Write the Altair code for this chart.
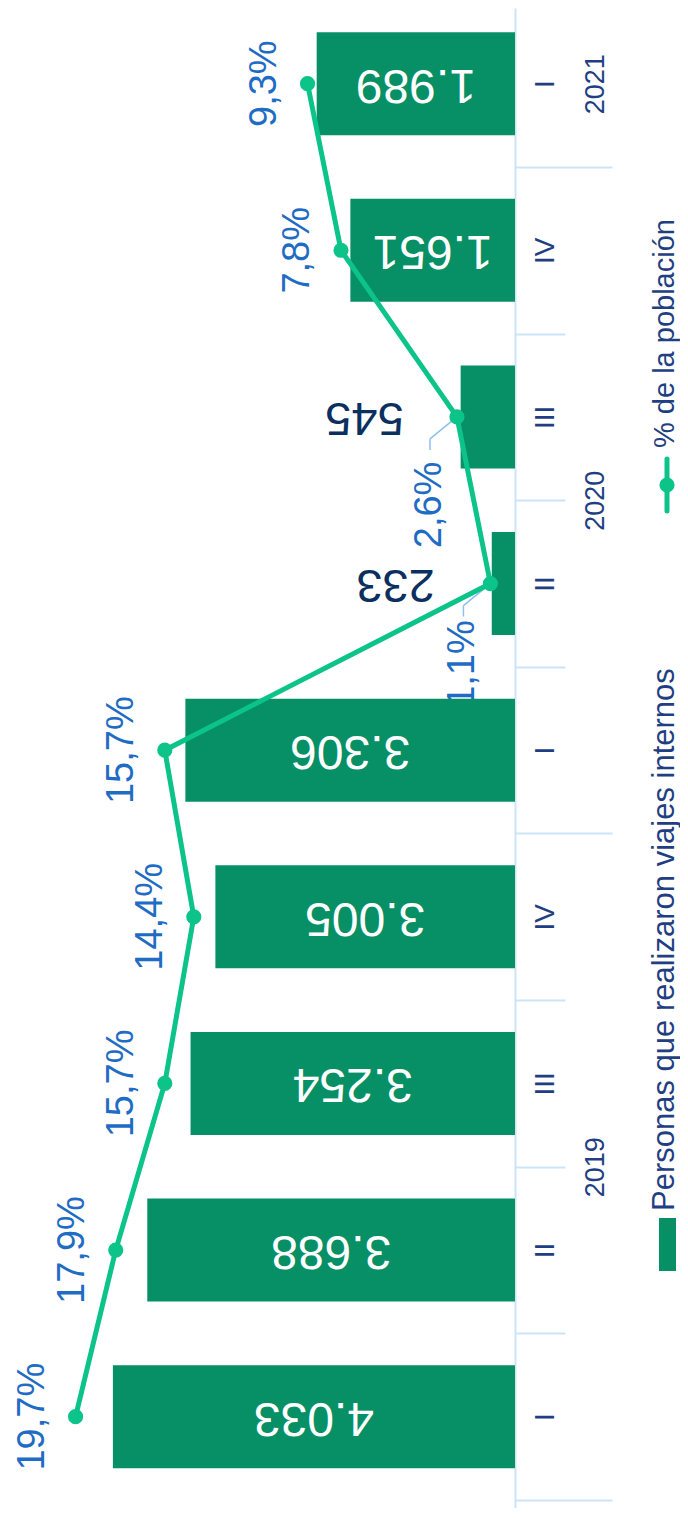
import altair as alt
import pandas as pd

# ---- data -------------------------------------------------------------
years = ["2019", "2020", "2021"]
year_centers = [1.5, 5.5, 8]          # index position of each year label
quarters = ["I", "II", "III", "IV", "I", "II", "III", "IV", "I"]
viajeros = [4033, 3688, 3254, 3005, 3306, 233, 545, 1651, 1989]
porcentaje = [19.7, 17.9, 15.7, 14.4, 15.7, 1.1, 2.6, 7.8, 9.3]
legend_names = ["Personas que realizaron viajes internos", "% de la población"]

df = pd.DataFrame({"idx": list(range(len(quarters))), "q": quarters,
                   "v": viajeros, "p": porcentaje})
legend_df = pd.DataFrame({"name": legend_names})

# ---- style ------------------------------------------------------------
GREEN_BAR = "#078f66"
GREEN_LINE = "#0cc389"
BLUE_TXT = "#1f6cc4"
NAVY = "#1f3f82"
DARK = "#0b2f5e"
AXIS = "#cce3f8"
LEADER = "#8cc0ef"
FONT = "Liberation Sans"

W, H = 672, 1500
AXIS_OFFSET = -165   # bar baseline sits 165px left of the right edge
y_scale = alt.Scale(domain=[-0.5179, 8.424], nice=False, zero=False)
xb_scale = alt.Scale(domain=[-1655, 5085], reverse=True, nice=False, zero=False)
xp_scale = alt.Scale(domain=[-7.40, 22.73], reverse=True, nice=False, zero=False)

Y = alt.Y("idx:Q", scale=y_scale, axis=None)
XB = alt.X("v:Q", scale=xb_scale, axis=None)
XP = alt.X("p:Q", scale=xp_scale, axis=None)
base = alt.Chart(df)

num_lab = "replace(format(datum.v, ','), ',', '.')"
pct_lab = "replace(format(datum.p, '.1f'), '.', ',') + '%'"

# ---- percentage labels (drawn beneath bars) ---------------------------
pct_base = base.transform_calculate(lab=pct_lab)
pct_norm = pct_base.transform_filter("datum.idx != 5 && datum.idx != 6").mark_text(
    angle=270, align="center", baseline="middle", dy=-43,
    fontSize=38, font=FONT, color=BLUE_TXT
).encode(x=XP, y=Y, text="lab:N")
pct_5 = pct_base.transform_filter("datum.idx == 5").mark_text(
    angle=270, align="center", baseline="middle", dx=-80, dy=-27,
    fontSize=38, font=FONT, color=BLUE_TXT
).encode(x=XP, y=Y, text="lab:N")
pct_6 = pct_base.transform_filter("datum.idx == 6").mark_text(
    angle=270, align="center", baseline="middle", dx=-88, dy=-27,
    fontSize=38, font=FONT, color=BLUE_TXT
).encode(x=XP, y=Y, text="lab:N")
lead_base = base.transform_filter("datum.idx == 5 || datum.idx == 6")
lead_a = lead_base.mark_rule(x2Offset=-27, y2Offset=22, color=LEADER, strokeWidth=1.5).encode(
    x=XP, y=Y, x2="p:Q", y2="idx:Q")
lead_b = lead_base.mark_rule(xOffset=-27, x2Offset=-27, yOffset=22, y2Offset=33,
                             color=LEADER, strokeWidth=1.5).encode(
    x=XP, y=Y, x2="p:Q", y2="idx:Q")
pct_group = alt.layer(pct_norm, pct_5, pct_6, lead_a, lead_b)

# ---- bars ---------------------------------------------------------------
bars = base.mark_bar(orient="horizontal", height=103, color=GREEN_BAR).encode(
    x=XB, x2=alt.datum(0), y=Y)
lab_in = base.transform_filter("datum.v >= 1000").transform_calculate(
    half="datum.v / 2", lab=num_lab
).mark_text(angle=180, align="center", baseline="middle", fontSize=48,
            font=FONT, color="white").encode(
    x=alt.X("half:Q", scale=xb_scale, axis=None), y=Y, text="lab:N")
lab_out = base.transform_filter("datum.v < 1000").transform_calculate(
    lab=num_lab
).mark_text(angle=180, align="left", baseline="middle", dx=57, fontSize=47,
            font=FONT, color=DARK).encode(x=XB, y=Y, text="lab:N")
bar_group = alt.layer(bars, lab_in, lab_out)

# ---- line ---------------------------------------------------------------
line = base.mark_line(
    color=GREEN_LINE, strokeWidth=5,
    point=alt.OverlayMarkDef(color=GREEN_LINE, size=230, filled=True, opacity=1)
).encode(x=XP, y=Y, order="idx:Q")

# ---- axes (at the bar baseline) -------------------------------------------
q_expr = "[" + ",".join("'%s'" % q for q in quarters) + "][datum.value]"
quarter_axis = base.mark_point(opacity=0).encode(
    y=alt.Y("idx:Q", scale=y_scale, axis=alt.Axis(
        orient="right", offset=AXIS_OFFSET, values=list(range(len(quarters))),
        labelExpr=q_expr, labelAngle=270, labelAlign="center",
        labelBaseline="middle", labelPadding=30, ticks=False, tickSize=0,
        domain=False, grid=False, labelFontSize=28, labelFont=FONT,
        labelColor=NAVY, title=None, labelOverlap=False)))

y_expr = ("{" + ",".join("'%s':'%s'" % (c, y) for c, y in zip(year_centers, years))
          + "}[datum.value]")
year_axis = base.mark_point(opacity=0).encode(
    y=alt.Y("idx:Q", scale=y_scale, axis=alt.Axis(
        orient="right", offset=AXIS_OFFSET, values=year_centers,
        labelExpr=y_expr, labelAngle=270, labelAlign="center",
        labelBaseline="middle", labelPadding=80, ticks=False, tickSize=0,
        domain=False, grid=False, labelFontSize=27, labelFont=FONT,
        labelColor=NAVY, title=None, labelOverlap=False)))

sep_axis = base.mark_point(opacity=0).encode(
    y=alt.Y("idx:Q", scale=y_scale, axis=alt.Axis(
        orient="right", offset=AXIS_OFFSET, values=[0.5, 1.5, 2.5, 4.5, 5.5, 6.5],
        labels=False, tickSize=50, tickColor=AXIS, tickWidth=2, domain=True,
        domainColor=AXIS, domainWidth=2, grid=False, title=None)))

year_sep_axis = base.mark_point(opacity=0).encode(
    y=alt.Y("idx:Q", scale=y_scale, axis=alt.Axis(
        orient="right", offset=AXIS_OFFSET, values=[-0.5, 3.5, 7.5],
        labels=False, tickSize=97, tickColor=AXIS, tickWidth=2, domain=False,
        grid=False, title=None)))

# ---- legend ----------------------------------------------------------------
leg = alt.Chart(legend_df)
leg_swatch = leg.transform_filter(alt.datum.name == legend_names[0]).mark_rect(
    color=GREEN_BAR).encode(x=alt.value(651), x2=alt.value(668),
                            y=alt.value(1210), y2=alt.value(1263))
leg_text1 = leg.transform_filter(alt.datum.name == legend_names[0]).mark_text(
    angle=270, align="left", baseline="alphabetic", fontSize=31, font=FONT, color=NAVY
).encode(x=alt.value(666), y=alt.value(1203), text="name:N")
leg_line = leg.transform_filter(alt.datum.name == legend_names[1]).mark_rule(
    color=GREEN_LINE, strokeWidth=5, strokeCap="round").encode(
    x=alt.value(659), y=alt.value(451), y2=alt.value(503))
leg_dot = leg.transform_filter(alt.datum.name == legend_names[1]).mark_point(
    color=GREEN_LINE, size=230, filled=True, opacity=1).encode(
    x=alt.value(659), y=alt.value(477))
leg_text2 = leg.transform_filter(alt.datum.name == legend_names[1]).mark_text(
    angle=270, align="left", baseline="alphabetic", fontSize=29, font=FONT, color=NAVY
).encode(x=alt.value(666), y=alt.value(440), text="name:N")
legend_group = alt.layer(leg_swatch, leg_text1, leg_line, leg_dot, leg_text2)

chart = alt.layer(
    pct_group, bar_group, line,
    sep_axis, year_sep_axis, quarter_axis, year_axis,
    legend_group,
).resolve_scale(x="independent", y="shared").resolve_axis(y="independent").properties(
    width=W, height=H, padding=0, autosize=alt.AutoSizeParams(type="none")
).configure_view(stroke=None)

chart.save("out.html", embed_options={"renderer": "svg", "actions": False})
